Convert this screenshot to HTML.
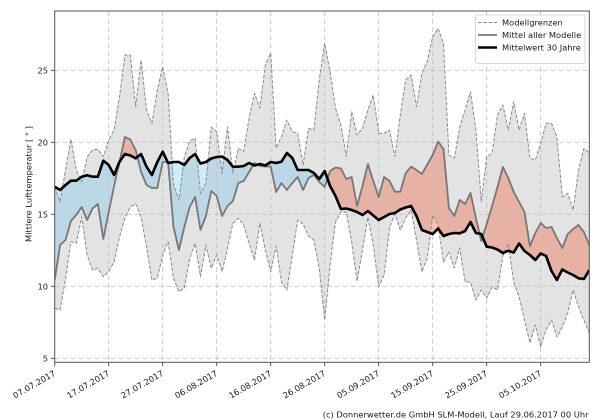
<!DOCTYPE html>
<html><head><meta charset="utf-8"><style>
html,body{margin:0;padding:0;background:#fff;}
svg{display:block;}
text{font-family:"DejaVu Sans","Liberation Sans",sans-serif;fill:#1a1a1a;}
</style></head><body>
<svg width="600" height="420" viewBox="0 0 600 420" xmlns="http://www.w3.org/2000/svg">
<defs>
<clipPath id="plot"><rect x="54.7" y="11" width="534.6" height="351.3"/></clipPath>
<clipPath id="aboveB"><polygon points="54.7,0 54.7,186.7 60.1,190 65.5,185 70.9,180.7 76.3,180.7 81.7,176.7 87.1,175.3 92.5,176.7 97.9,176.7 103.3,160.7 108.7,165 114.1,175 119.5,161.7 124.9,154 130.3,155.5 135.7,158.3 141.1,154 146.5,166.7 151.9,175 157.3,162 162.7,151.7 168.1,163 173.5,162 178.9,162 184.3,165 189.7,158 195.1,154 200.5,163.5 205.9,162 211.3,158.5 216.7,157 222.1,156.5 227.5,160 232.9,166.7 238.3,166.7 243.7,166 249.1,163 254.5,165.5 259.9,164 265.3,165.5 270.7,162 276.1,163 281.5,161.7 286.9,153 292.3,158 297.7,170 303.1,170 308.5,170 313.9,173 319.3,179 324.7,171 330.1,186 335.5,196 340.9,209 346.3,208.5 351.7,210 357.1,212 362.5,215 367.9,211 373.3,215.5 378.7,220 384.1,217 389.5,214 394.9,213 400.3,209.5 405.7,207.5 411.1,206 416.5,216 421.9,230 427.3,232 432.7,234 438.1,228.5 443.5,236 448.9,234 454.3,233 459.7,233.3 465.1,231 470.5,222 475.9,233 481.3,234 486.7,246.7 492.1,247.5 497.5,249.5 502.9,253 508.3,250.7 513.7,252.5 519.1,243.5 524.5,251 529.9,255 535.3,260 540.7,253.5 546.1,256 551.5,271 556.9,280 562.3,269.5 567.7,272.5 573.1,275 578.5,278.3 583.9,279 589.3,270 589.3,0"/></clipPath>
<clipPath id="aboveM"><polygon points="54.7,0 54.7,280 60.1,245 65.5,240 70.9,221 76.3,215 81.7,207 87.1,220 92.5,208.5 97.9,204 103.3,239 108.7,212 114.1,186 119.5,162 124.9,137 130.3,139.5 135.7,150 141.1,172 146.5,185 151.9,188 157.3,188 162.7,162 168.1,162 173.5,227 178.9,250 184.3,227 189.7,207 195.1,197 200.5,230 205.9,216 211.3,191 216.7,196 222.1,216 227.5,206 232.9,201 238.3,183 243.7,181 249.1,172 254.5,163 259.9,166 265.3,166.5 270.7,166.5 276.1,192 281.5,183 286.9,190 292.3,183 297.7,177 303.1,190 308.5,178 313.9,175 319.3,182 324.7,187 330.1,171 335.5,167.5 340.9,168.5 346.3,179 351.7,177 357.1,206 362.5,186 367.9,164 373.3,181 378.7,197 384.1,177 389.5,181 394.9,191.7 400.3,191.7 405.7,173 411.1,166.7 416.5,170 421.9,174 427.3,164.5 432.7,155 438.1,141.7 443.5,149 448.9,208 454.3,216 459.7,200 465.1,204 470.5,193 475.9,218 481.3,241 486.7,224 492.1,206 497.5,187 502.9,167 508.3,178 513.7,192 519.1,202 524.5,212 529.9,246 535.3,233 540.7,223 546.1,228 551.5,227 556.9,238 562.3,248 567.7,234 573.1,229 578.5,225 583.9,232 589.3,245 589.3,0"/></clipPath>
</defs>

<g clip-path="url(#plot)">
<!-- gray band: area under upper, then white under lower -->
<polygon fill="#e3e3e3" points="54.7,186.7 60.1,201.7 65.5,170 70.9,139.3 76.3,170 81.7,181.7 87.1,157 92.5,150 97.9,149.3 103.3,156.7 108.7,140 114.1,130 119.5,96.7 124.9,55 130.3,55 135.7,106.7 141.1,60 146.5,110 151.9,123.3 157.3,90 162.7,66.7 168.1,93.3 173.5,185 178.9,200 184.3,157 189.7,141 195.1,138 200.5,193.3 205.9,183 211.3,127.3 216.7,131.7 222.1,173.3 227.5,126.7 232.9,173.3 238.3,148.3 243.7,151.7 249.1,118 254.5,93.3 259.9,108 265.3,65 270.7,53.3 276.1,148 281.5,136.7 286.9,120 292.3,131.7 297.7,133.3 303.1,165 308.5,128.3 313.9,130 319.3,80 324.7,43.3 330.1,72 335.5,108 340.9,125 346.3,156.7 351.7,111.7 357.1,135 362.5,128 367.9,110 373.3,95 378.7,133.3 384.1,133.3 389.5,130 394.9,156.7 400.3,115 405.7,80 411.1,75 416.5,106.7 421.9,73.3 427.3,61 432.7,36.7 438.1,28.3 443.5,43.3 448.9,155 454.3,158.3 459.7,127 465.1,110 470.5,91.7 475.9,130 481.3,201.7 486.7,156.7 492.1,153 497.5,115 502.9,105 508.3,130 513.7,101.7 519.1,130 524.5,113.3 529.9,158.3 535.3,160 540.7,143.3 546.1,123.3 551.5,123.3 556.9,137 562.3,196.7 567.7,193.3 573.1,210 578.5,170 583.9,148.3 589.3,153.3 589.3,420 54.7,420"/>
<polygon fill="#ffffff" points="54.7,308.3 60.1,310 65.5,279 70.9,241.7 76.3,243.3 81.7,216.7 87.1,255 92.5,270 97.9,268.3 103.3,276.7 108.7,271.7 114.1,262 119.5,237 124.9,218.3 130.3,207 135.7,204 141.1,216.7 146.5,246.7 151.9,280 157.3,278.3 162.7,255 168.1,241.7 173.5,278.3 178.9,291.7 184.3,288.3 189.7,258.3 195.1,243.3 200.5,276.7 205.9,245 211.3,268.3 216.7,255 222.1,271.7 227.5,248 232.9,223.3 238.3,218.3 243.7,225 249.1,243.3 254.5,260 259.9,223.3 265.3,250 270.7,272 276.1,246 281.5,282 286.9,290 292.3,255 297.7,220 303.1,224 308.5,236 313.9,240 319.3,268 324.7,320 330.1,265 335.5,222 340.9,212 346.3,212 351.7,242 357.1,281 362.5,250 367.9,217 373.3,245 378.7,286.7 384.1,275 389.5,228 394.9,214 400.3,230 405.7,218 411.1,210 416.5,240 421.9,272 427.3,258 432.7,215 438.1,225 443.5,262 448.9,252 454.3,268 459.7,248 465.1,282 470.5,282 475.9,300 481.3,290 486.7,298 492.1,287 497.5,290 502.9,256 508.3,244 513.7,282 519.1,297 524.5,320 529.9,343 535.3,325 540.7,346.7 546.1,330 551.5,320 556.9,337 562.3,327 567.7,313 573.1,290 578.5,307 583.9,320 589.3,333 589.3,420 54.7,420"/>

<!-- red: below M, above B -->
<g clip-path="url(#aboveB)">
<polygon fill="rgba(240,70,30,0.32)" points="54.7,280 60.1,245 65.5,240 70.9,221 76.3,215 81.7,207 87.1,220 92.5,208.5 97.9,204 103.3,239 108.7,212 114.1,186 119.5,162 124.9,137 130.3,139.5 135.7,150 141.1,172 146.5,185 151.9,188 157.3,188 162.7,162 168.1,162 173.5,227 178.9,250 184.3,227 189.7,207 195.1,197 200.5,230 205.9,216 211.3,191 216.7,196 222.1,216 227.5,206 232.9,201 238.3,183 243.7,181 249.1,172 254.5,163 259.9,166 265.3,166.5 270.7,166.5 276.1,192 281.5,183 286.9,190 292.3,183 297.7,177 303.1,190 308.5,178 313.9,175 319.3,182 324.7,187 330.1,171 335.5,167.5 340.9,168.5 346.3,179 351.7,177 357.1,206 362.5,186 367.9,164 373.3,181 378.7,197 384.1,177 389.5,181 394.9,191.7 400.3,191.7 405.7,173 411.1,166.7 416.5,170 421.9,174 427.3,164.5 432.7,155 438.1,141.7 443.5,149 448.9,208 454.3,216 459.7,200 465.1,204 470.5,193 475.9,218 481.3,241 486.7,224 492.1,206 497.5,187 502.9,167 508.3,178 513.7,192 519.1,202 524.5,212 529.9,246 535.3,233 540.7,223 546.1,228 551.5,227 556.9,238 562.3,248 567.7,234 573.1,229 578.5,225 583.9,232 589.3,245 589.3,420 54.7,420"/>
</g>
<!-- blue: below B, above M -->
<g clip-path="url(#aboveM)">
<polygon fill="rgba(100,190,235,0.3)" points="54.7,186.7 60.1,190 65.5,185 70.9,180.7 76.3,180.7 81.7,176.7 87.1,175.3 92.5,176.7 97.9,176.7 103.3,160.7 108.7,165 114.1,175 119.5,161.7 124.9,154 130.3,155.5 135.7,158.3 141.1,154 146.5,166.7 151.9,175 157.3,162 162.7,151.7 168.1,163 173.5,162 178.9,162 184.3,165 189.7,158 195.1,154 200.5,163.5 205.9,162 211.3,158.5 216.7,157 222.1,156.5 227.5,160 232.9,166.7 238.3,166.7 243.7,166 249.1,163 254.5,165.5 259.9,164 265.3,165.5 270.7,162 276.1,163 281.5,161.7 286.9,153 292.3,158 297.7,170 303.1,170 308.5,170 313.9,173 319.3,179 324.7,171 330.1,186 335.5,196 340.9,209 346.3,208.5 351.7,210 357.1,212 362.5,215 367.9,211 373.3,215.5 378.7,220 384.1,217 389.5,214 394.9,213 400.3,209.5 405.7,207.5 411.1,206 416.5,216 421.9,230 427.3,232 432.7,234 438.1,228.5 443.5,236 448.9,234 454.3,233 459.7,233.3 465.1,231 470.5,222 475.9,233 481.3,234 486.7,246.7 492.1,247.5 497.5,249.5 502.9,253 508.3,250.7 513.7,252.5 519.1,243.5 524.5,251 529.9,255 535.3,260 540.7,253.5 546.1,256 551.5,271 556.9,280 562.3,269.5 567.7,272.5 573.1,275 578.5,278.3 583.9,279 589.3,270 589.3,420 54.7,420"/>
</g>

<!-- grid -->
<g stroke="#c4c4c4" stroke-width="0.9" stroke-dasharray="5,3" fill="none">
<line x1="54.7" y1="70.3" x2="589.3" y2="70.3"/>
<line x1="54.7" y1="142.3" x2="589.3" y2="142.3"/>
<line x1="54.7" y1="214.3" x2="589.3" y2="214.3"/>
<line x1="54.7" y1="286.3" x2="589.3" y2="286.3"/>
<line x1="54.7" y1="358.3" x2="589.3" y2="358.3"/>
<line x1="108.7" y1="11" x2="108.7" y2="362"/>
<line x1="162.7" y1="11" x2="162.7" y2="362"/>
<line x1="216.7" y1="11" x2="216.7" y2="362"/>
<line x1="270.7" y1="11" x2="270.7" y2="362"/>
<line x1="324.7" y1="11" x2="324.7" y2="362"/>
<line x1="378.7" y1="11" x2="378.7" y2="362"/>
<line x1="432.7" y1="11" x2="432.7" y2="362"/>
<line x1="486.7" y1="11" x2="486.7" y2="362"/>
<line x1="540.7" y1="11" x2="540.7" y2="362"/>
</g>

<!-- bounds dashed -->
<g fill="none" stroke="#8c8c8c" stroke-width="1" stroke-dasharray="3.7,1.6" stroke-linejoin="round">
<polyline points="54.7,186.7 60.1,201.7 65.5,170 70.9,139.3 76.3,170 81.7,181.7 87.1,157 92.5,150 97.9,149.3 103.3,156.7 108.7,140 114.1,130 119.5,96.7 124.9,55 130.3,55 135.7,106.7 141.1,60 146.5,110 151.9,123.3 157.3,90 162.7,66.7 168.1,93.3 173.5,185 178.9,200 184.3,157 189.7,141 195.1,138 200.5,193.3 205.9,183 211.3,127.3 216.7,131.7 222.1,173.3 227.5,126.7 232.9,173.3 238.3,148.3 243.7,151.7 249.1,118 254.5,93.3 259.9,108 265.3,65 270.7,53.3 276.1,148 281.5,136.7 286.9,120 292.3,131.7 297.7,133.3 303.1,165 308.5,128.3 313.9,130 319.3,80 324.7,43.3 330.1,72 335.5,108 340.9,125 346.3,156.7 351.7,111.7 357.1,135 362.5,128 367.9,110 373.3,95 378.7,133.3 384.1,133.3 389.5,130 394.9,156.7 400.3,115 405.7,80 411.1,75 416.5,106.7 421.9,73.3 427.3,61 432.7,36.7 438.1,28.3 443.5,43.3 448.9,155 454.3,158.3 459.7,127 465.1,110 470.5,91.7 475.9,130 481.3,201.7 486.7,156.7 492.1,153 497.5,115 502.9,105 508.3,130 513.7,101.7 519.1,130 524.5,113.3 529.9,158.3 535.3,160 540.7,143.3 546.1,123.3 551.5,123.3 556.9,137 562.3,196.7 567.7,193.3 573.1,210 578.5,170 583.9,148.3 589.3,153.3"/>
<polyline points="54.7,308.3 60.1,310 65.5,279 70.9,241.7 76.3,243.3 81.7,216.7 87.1,255 92.5,270 97.9,268.3 103.3,276.7 108.7,271.7 114.1,262 119.5,237 124.9,218.3 130.3,207 135.7,204 141.1,216.7 146.5,246.7 151.9,280 157.3,278.3 162.7,255 168.1,241.7 173.5,278.3 178.9,291.7 184.3,288.3 189.7,258.3 195.1,243.3 200.5,276.7 205.9,245 211.3,268.3 216.7,255 222.1,271.7 227.5,248 232.9,223.3 238.3,218.3 243.7,225 249.1,243.3 254.5,260 259.9,223.3 265.3,250 270.7,272 276.1,246 281.5,282 286.9,290 292.3,255 297.7,220 303.1,224 308.5,236 313.9,240 319.3,268 324.7,320 330.1,265 335.5,222 340.9,212 346.3,212 351.7,242 357.1,281 362.5,250 367.9,217 373.3,245 378.7,286.7 384.1,275 389.5,228 394.9,214 400.3,230 405.7,218 411.1,210 416.5,240 421.9,272 427.3,258 432.7,215 438.1,225 443.5,262 448.9,252 454.3,268 459.7,248 465.1,282 470.5,282 475.9,300 481.3,290 486.7,298 492.1,287 497.5,290 502.9,256 508.3,244 513.7,282 519.1,297 524.5,320 529.9,343 535.3,325 540.7,346.7 546.1,330 551.5,320 556.9,337 562.3,327 567.7,313 573.1,290 578.5,307 583.9,320 589.3,333"/>
</g>

<!-- model mean -->
<polyline fill="none" stroke="#777777" stroke-width="1.8" stroke-linejoin="round" points="54.7,280 60.1,245 65.5,240 70.9,221 76.3,215 81.7,207 87.1,220 92.5,208.5 97.9,204 103.3,239 108.7,212 114.1,186 119.5,162 124.9,137 130.3,139.5 135.7,150 141.1,172 146.5,185 151.9,188 157.3,188 162.7,162 168.1,162 173.5,227 178.9,250 184.3,227 189.7,207 195.1,197 200.5,230 205.9,216 211.3,191 216.7,196 222.1,216 227.5,206 232.9,201 238.3,183 243.7,181 249.1,172 254.5,163 259.9,166 265.3,166.5 270.7,166.5 276.1,192 281.5,183 286.9,190 292.3,183 297.7,177 303.1,190 308.5,178 313.9,175 319.3,182 324.7,187 330.1,171 335.5,167.5 340.9,168.5 346.3,179 351.7,177 357.1,206 362.5,186 367.9,164 373.3,181 378.7,197 384.1,177 389.5,181 394.9,191.7 400.3,191.7 405.7,173 411.1,166.7 416.5,170 421.9,174 427.3,164.5 432.7,155 438.1,141.7 443.5,149 448.9,208 454.3,216 459.7,200 465.1,204 470.5,193 475.9,218 481.3,241 486.7,224 492.1,206 497.5,187 502.9,167 508.3,178 513.7,192 519.1,202 524.5,212 529.9,246 535.3,233 540.7,223 546.1,228 551.5,227 556.9,238 562.3,248 567.7,234 573.1,229 578.5,225 583.9,232 589.3,245"/>

<!-- 30 year mean -->
<polyline fill="none" stroke="#000" stroke-width="2.6" stroke-linejoin="round" points="54.7,186.7 60.1,190 65.5,185 70.9,180.7 76.3,180.7 81.7,176.7 87.1,175.3 92.5,176.7 97.9,176.7 103.3,160.7 108.7,165 114.1,175 119.5,161.7 124.9,154 130.3,155.5 135.7,158.3 141.1,154 146.5,166.7 151.9,175 157.3,162 162.7,151.7 168.1,163 173.5,162 178.9,162 184.3,165 189.7,158 195.1,154 200.5,163.5 205.9,162 211.3,158.5 216.7,157 222.1,156.5 227.5,160 232.9,166.7 238.3,166.7 243.7,166 249.1,163 254.5,165.5 259.9,164 265.3,165.5 270.7,162 276.1,163 281.5,161.7 286.9,153 292.3,158 297.7,170 303.1,170 308.5,170 313.9,173 319.3,179 324.7,171 330.1,186 335.5,196 340.9,209 346.3,208.5 351.7,210 357.1,212 362.5,215 367.9,211 373.3,215.5 378.7,220 384.1,217 389.5,214 394.9,213 400.3,209.5 405.7,207.5 411.1,206 416.5,216 421.9,230 427.3,232 432.7,234 438.1,228.5 443.5,236 448.9,234 454.3,233 459.7,233.3 465.1,231 470.5,222 475.9,233 481.3,234 486.7,246.7 492.1,247.5 497.5,249.5 502.9,253 508.3,250.7 513.7,252.5 519.1,243.5 524.5,251 529.9,255 535.3,260 540.7,253.5 546.1,256 551.5,271 556.9,280 562.3,269.5 567.7,272.5 573.1,275 578.5,278.3 583.9,279 589.3,270"/>
</g>

<!-- frame -->
<rect x="54.7" y="11" width="534.6" height="351.3" fill="none" stroke="#555" stroke-width="1"/>

<!-- y ticks -->
<g stroke="#555" stroke-width="1">
<line x1="51" y1="70.3" x2="54.7" y2="70.3"/>
<line x1="51" y1="142.3" x2="54.7" y2="142.3"/>
<line x1="51" y1="214.3" x2="54.7" y2="214.3"/>
<line x1="51" y1="286.3" x2="54.7" y2="286.3"/>
<line x1="51" y1="358.3" x2="54.7" y2="358.3"/>
<line x1="54.7" y1="362.3" x2="54.7" y2="366"/>
<line x1="108.7" y1="362.3" x2="108.7" y2="366"/>
<line x1="162.7" y1="362.3" x2="162.7" y2="366"/>
<line x1="216.7" y1="362.3" x2="216.7" y2="366"/>
<line x1="270.7" y1="362.3" x2="270.7" y2="366"/>
<line x1="324.7" y1="362.3" x2="324.7" y2="366"/>
<line x1="378.7" y1="362.3" x2="378.7" y2="366"/>
<line x1="432.7" y1="362.3" x2="432.7" y2="366"/>
<line x1="486.7" y1="362.3" x2="486.7" y2="366"/>
<line x1="540.7" y1="362.3" x2="540.7" y2="366"/>
</g>
<g font-size="8.3" text-anchor="end">
<text x="48" y="73.3">25</text>
<text x="48" y="145.3">20</text>
<text x="48" y="217.3">15</text>
<text x="48" y="289.3">10</text>
<text x="48" y="361.3">5</text>
</g>
<text font-size="8.3" text-anchor="middle" transform="translate(31.5,184) rotate(-90)">Mittlere Lufttemperatur [ ° ]</text>

<!-- x tick labels -->
<g font-size="8.3" text-anchor="end">
<text transform="translate(56.2,375) rotate(-30)">07.07.2017</text>
<text transform="translate(110.2,375) rotate(-30)">17.07.2017</text>
<text transform="translate(164.2,375) rotate(-30)">27.07.2017</text>
<text transform="translate(218.2,375) rotate(-30)">06.08.2017</text>
<text transform="translate(272.2,375) rotate(-30)">16.08.2017</text>
<text transform="translate(326.2,375) rotate(-30)">26.08.2017</text>
<text transform="translate(380.2,375) rotate(-30)">05.09.2017</text>
<text transform="translate(434.2,375) rotate(-30)">15.09.2017</text>
<text transform="translate(488.2,375) rotate(-30)">25.09.2017</text>
<text transform="translate(542.2,375) rotate(-30)">05.10.2017</text>
</g>

<!-- legend -->
<rect x="475.5" y="15" width="109.5" height="48.5" rx="2" fill="#fff" fill-opacity="0.85" stroke="#cccccc" stroke-width="0.8"/>
<line x1="478" y1="22.5" x2="497" y2="22.5" stroke="#8c8c8c" stroke-width="1" stroke-dasharray="3.7,1.6"/>
<line x1="478" y1="35" x2="497" y2="35" stroke="#777" stroke-width="1.8"/>
<line x1="478" y1="47.5" x2="497" y2="47.5" stroke="#000" stroke-width="2.6"/>
<g font-size="8.3">
<text x="502" y="25.5">Modellgrenzen</text>
<text x="502" y="38">Mittel aller Modelle</text>
<text x="502" y="50.5">Mittelwert 30 Jahre</text>
</g>

<text x="588.5" y="417.5" font-size="8.3" text-anchor="end">(c) Donnerwetter.de GmbH SLM-Modell, Lauf 29.06.2017 00 Uhr</text>
</svg>
</body></html>
